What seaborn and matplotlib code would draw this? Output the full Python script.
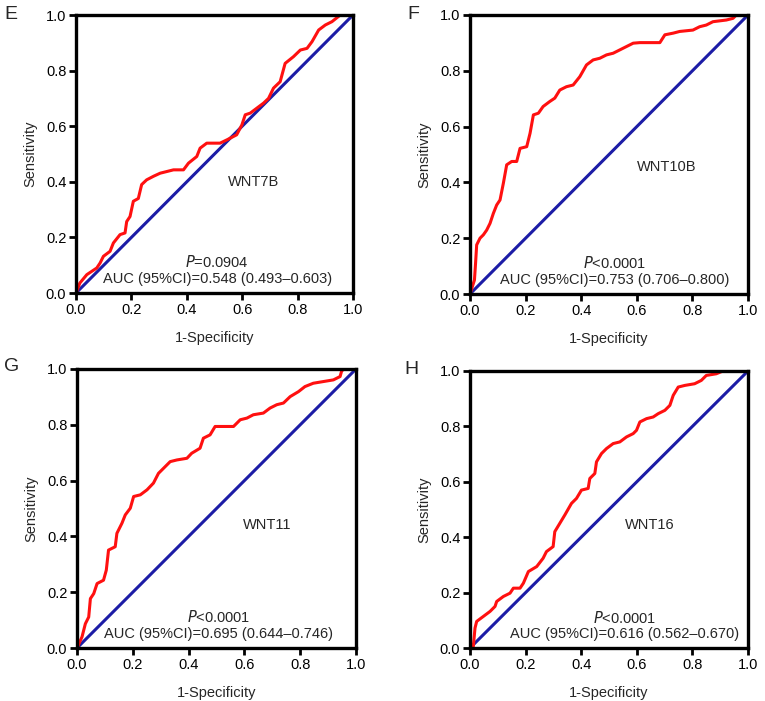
import matplotlib
matplotlib.use("Agg")
import matplotlib.pyplot as plt
import pandas as pd
import seaborn as sns

sns.set_style("ticks")
plt.rcParams["font.family"] = ["Liberation Sans", "DejaVu Sans"]

# ROC curve points (1-Specificity, Sensitivity)
wnt7b_fpr = [0, .014, .039, .075, .087, .099, .123, .135, .159, .177, .183, .195, .207, .225, .237, .255,
             .28, .304, .328, .352, .388, .406, .436, .448, .472, .52, .545, .58, .599, .611, .629, .653,
             .677, .695, .713, .737, .755, .785, .81, .834, .852, .876, .9, .924, .954, 1]
wnt7b_tpr = [0, .036, .066, .09, .108, .132, .15, .18, .21, .216, .257, .275, .33, .34, .39, .407,
             .42, .431, .437, .443, .443, .467, .491, .521, .539, .539, .551, .569, .605, .641, .647, .665,
             .683, .70, .737, .76, .826, .85, .874, .88, .904, .946, .964, .976, 1.0, 1]

wnt10b_fpr = [0, .016, .02, .024, .036, .048, .06, .072, .084, .096, .108, .12, .132, .15, .168, .18,
              .204, .216, .228, .246, .263, .287, .305, .323, .347, .371, .395, .419, .443, .467, .491,
              .515, .539, .563, .587, .611, .683, .701, .731, .754, .802, .826, .85, .874, .922, .946, .958, 1]
wnt10b_tpr = [0, .05, .11, .176, .2, .212, .229, .253, .289, .319, .337, .397, .463, .475, .475, .522,
              .528, .576, .642, .648, .672, .69, .702, .731, .743, .749, .779, .821, .839, .845, .857,
              .863, .875, .887, .899, .901, .901, .929, .935, .941, .946, .958, .964, .976, .982, .988, 1, 1]

wnt11_fpr = [0, .018, .03, .042, .048, .06, .072, .095, .105, .113, .137, .143, .161, .173, .191, .203,
             .227, .251, .274, .292, .31, .334, .358, .394, .411, .441, .453, .477, .495, .561, .585,
             .609, .632, .668, .692, .716, .74, .764, .794, .817, .847, .883, .919, .943, .948, .955, 1]
wnt11_tpr = [0, .04, .087, .111, .177, .195, .231, .243, .279, .351, .363, .411, .447, .477, .501, .543,
             .549, .567, .591, .626, .644, .668, .674, .68, .698, .716, .752, .764, .794, .794, .818,
             .824, .836, .842, .86, .872, .878, .901, .919, .937, .949, .955, .961, .973, .991, 1, 1]

wnt16_fpr = [0, .012, .018, .024, .048, .072, .09, .096, .12, .144, .156, .18, .192, .21, .24, .263,
             .275, .299, .305, .323, .341, .365, .383, .401, .425, .431, .449, .455, .473, .491, .515,
             .539, .563, .587, .599, .611, .635, .659, .677, .701, .719, .731, .749, .773, .808, .832,
             .85, .886, .91, 1]
wnt16_tpr = [0, .006, .072, .096, .114, .132, .15, .168, .186, .198, .216, .216, .234, .276, .294, .324,
             .348, .366, .42, .45, .48, .522, .54, .57, .576, .612, .63, .672, .702, .72, .738,
             .744, .762, .774, .786, .816, .828, .834, .846, .858, .876, .912, .942, .948, .954, .966,
             .984, .99, 1.0, 1]

letters = ["E", "F", "G", "H"]
genes = ["WNT7B", "WNT10B", "WNT11", "WNT16"]
p_texts = ["=0.0904", "<0.0001", "<0.0001", "<0.0001"]
auc_texts = ["AUC (95%CI)=0.548 (0.493\u20130.603)",
             "AUC (95%CI)=0.753 (0.706\u20130.800)",
             "AUC (95%CI)=0.695 (0.644\u20130.746)",
             "AUC (95%CI)=0.616 (0.562\u20130.670)"]
curves = [(wnt7b_fpr, wnt7b_tpr), (wnt10b_fpr, wnt10b_tpr),
          (wnt11_fpr, wnt11_tpr), (wnt16_fpr, wnt16_tpr)]

# label positions inside each axes (fraction of axes)
gene_pos = [(.64, .40), (.707, .456), (.68, .44), (.647, .444)]
stat_x = [.51, .52, .507, .557]

fig = plt.figure(figsize=(7.65, 7.01), dpi=100)
W, H = 765, 701
boxes = [(76, 15, 353, 293), (470, 15, 748, 294), (77, 369, 356, 648), (470, 371, 748, 648)]
letter_pos = [(4, 19), (407, 19), (4, 371), (404, 374)]

fs = 10.5
for i, (x0, y0, x1, y1) in enumerate(boxes):
    ax = fig.add_axes([x0 / W, 1 - y1 / H, (x1 - x0) / W, (y1 - y0) / H])
    fpr, tpr = curves[i]
    df = pd.DataFrame({"fpr": fpr, "tpr": tpr})
    sns.lineplot(x=[0, 1], y=[0, 1], ax=ax, color="#1c1ca6", lw=2.2)
    sns.lineplot(data=df, x="fpr", y="tpr", ax=ax, color="#ff1010", lw=2.2,
                 sort=False, estimator=None)
    ax.set_xlim(0, 1)
    ax.set_ylim(0, 1)
    ticks = [0, .2, .4, .6, .8, 1.0]
    ax.set_xticks(ticks)
    ax.set_yticks(ticks)
    ax.set_xticklabels([f"{t:.1f}" for t in ticks], fontsize=fs)
    ax.set_yticklabels([f"{t:.1f}" for t in ticks], fontsize=fs)
    ax.tick_params(direction="out", length=5, width=2, colors="black", pad=2)
    for s in ax.spines.values():
        s.set_linewidth(2.4)
        s.set_color("black")
    ax.set_xlabel("1-Specificity", fontsize=fs, labelpad=10)
    ax.set_ylabel("Sensitivity", fontsize=fs, labelpad=6)

    gx, gy = gene_pos[i]
    ax.text(gx, gy, genes[i], transform=ax.transAxes, ha="center", va="center", fontsize=fs)
    ax.text(stat_x[i], .11, "$\\it{P}$" + p_texts[i], transform=ax.transAxes,
            ha="center", va="center", fontsize=fs)
    ax.text(stat_x[i], .05, auc_texts[i], transform=ax.transAxes,
            ha="center", va="center", fontsize=fs)

    lx, ly = letter_pos[i]
    fig.text(lx / W, 1 - ly / H, letters[i], ha="left", va="baseline", fontsize=14)

fig.savefig("out.png", dpi=100)
